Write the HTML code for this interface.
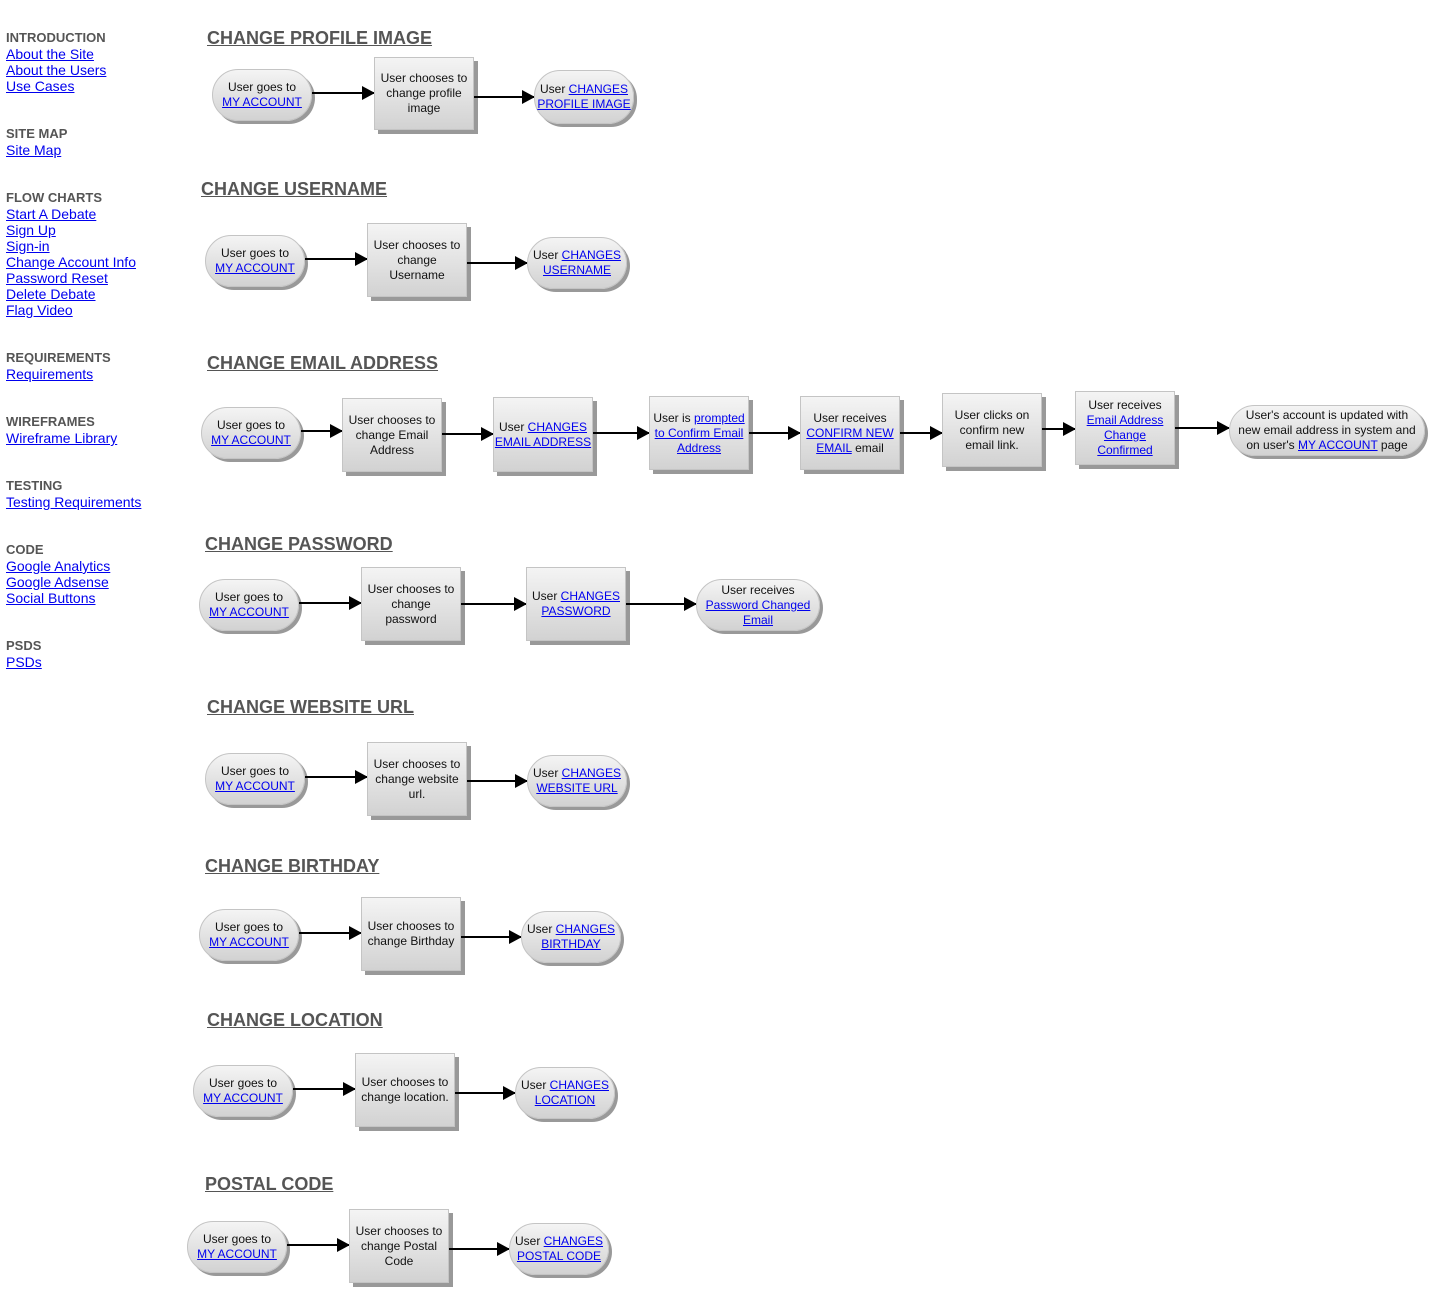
<!DOCTYPE html>
<html><head><meta charset="utf-8"><style>
body{margin:0;width:1444px;height:1304px;background:#fff;position:relative;font-family:"Liberation Sans",Arial,sans-serif;overflow:hidden}
.s{position:absolute;left:6px;font-size:14px;line-height:16px;color:#0000ee}
.s b{color:#555;display:block;font-size:13px}
.s a{color:#0000ee;text-decoration:underline;display:block}
.h{position:absolute;font-size:18px;font-weight:bold;color:#555;text-decoration:underline;line-height:20px}
.n{position:absolute;box-sizing:border-box;display:flex;align-items:center;justify-content:center;text-align:center;font-size:12px;line-height:15px;color:#111;background:linear-gradient(#f4f4f4,#d2d2d2);border:1px solid #c4c4c4;white-space:nowrap}
.n>span{display:block}
.b{box-shadow:4px 4px 0 #999}
.p{border-radius:26px;box-shadow:3px 3px 0 #999}
.n a{color:#0000ee;text-decoration:underline}
.ar{position:absolute;height:2px;background:#000}
.ar:after{content:"";position:absolute;right:-1px;top:-6px;border-left:13px solid #000;border-top:7px solid transparent;border-bottom:7px solid transparent}
</style></head><body>
<div class="s" style="top:30px"><b>INTRODUCTION</b><a>About the Site</a><a>About the Users</a><a>Use Cases</a></div>
<div class="s" style="top:126px"><b>SITE MAP</b><a>Site Map</a></div>
<div class="s" style="top:190px"><b>FLOW CHARTS</b><a>Start A Debate</a><a>Sign Up</a><a>Sign-in</a><a>Change Account Info</a><a>Password Reset</a><a>Delete Debate</a><a>Flag Video</a></div>
<div class="s" style="top:350px"><b>REQUIREMENTS</b><a>Requirements</a></div>
<div class="s" style="top:414px"><b>WIREFRAMES</b><a>Wireframe Library</a></div>
<div class="s" style="top:478px"><b>TESTING</b><a>Testing Requirements</a></div>
<div class="s" style="top:542px"><b>CODE</b><a>Google Analytics</a><a>Google Adsense</a><a>Social Buttons</a></div>
<div class="s" style="top:638px"><b>PSDS</b><a>PSDs</a></div>

<div class="h" style="left:207px;top:28px">CHANGE PROFILE IMAGE</div>
<div class="n p" style="left:212px;top:69px;width:100px;height:52px"><span>User goes to<br><a>MY ACCOUNT</a></span></div>
<div class="ar" style="left:312px;top:92px;width:62px"></div>
<div class="n b" style="left:374px;top:57px;width:100px;height:73px"><span>User chooses to<br>change profile<br>image</span></div>
<div class="ar" style="left:474px;top:96px;width:60px"></div>
<div class="n p" style="left:534px;top:70px;width:100px;height:54px"><span>User <a>CHANGES </a><br><a>PROFILE IMAGE</a></span></div>

<div class="h" style="left:201px;top:179px">CHANGE USERNAME</div>
<div class="n p" style="left:205px;top:235px;width:100px;height:52px"><span>User goes to<br><a>MY ACCOUNT</a></span></div>
<div class="ar" style="left:305px;top:258px;width:62px"></div>
<div class="n b" style="left:367px;top:223px;width:100px;height:74px"><span>User chooses to<br>change<br>Username</span></div>
<div class="ar" style="left:467px;top:262px;width:60px"></div>
<div class="n p" style="left:527px;top:237px;width:100px;height:52px"><span>User <a>CHANGES </a><br><a>USERNAME</a></span></div>

<div class="h" style="left:207px;top:353px">CHANGE EMAIL ADDRESS</div>
<div class="n p" style="left:201px;top:407px;width:100px;height:52px"><span>User goes to<br><a>MY ACCOUNT</a></span></div>
<div class="ar" style="left:301px;top:430px;width:41px"></div>
<div class="n b" style="left:342px;top:398px;width:100px;height:74px"><span>User chooses to<br>change Email<br>Address</span></div>
<div class="ar" style="left:442px;top:433px;width:51px"></div>
<div class="n b" style="left:493px;top:397px;width:100px;height:75px"><span>User <a>CHANGES </a><br><a>EMAIL ADDRESS</a></span></div>
<div class="ar" style="left:593px;top:432px;width:56px"></div>
<div class="n b" style="left:649px;top:396px;width:100px;height:74px"><span>User is <a>prompted</a><br><a>to Confirm Email</a><br><a>Address</a></span></div>
<div class="ar" style="left:749px;top:432px;width:51px"></div>
<div class="n b" style="left:800px;top:396px;width:100px;height:74px"><span>User receives<br><a>CONFIRM NEW </a><br><a>EMAIL</a> email</span></div>
<div class="ar" style="left:900px;top:432px;width:42px"></div>
<div class="n b" style="left:942px;top:393px;width:100px;height:74px"><span>User clicks on<br>confirm new<br>email link.</span></div>
<div class="ar" style="left:1042px;top:428px;width:33px"></div>
<div class="n b" style="left:1075px;top:391px;width:100px;height:74px"><span>User receives<br><a>Email Address </a><br><a>Change </a><br><a>Confirmed</a></span></div>
<div class="ar" style="left:1175px;top:427px;width:54px"></div>
<div class="n p" style="left:1229px;top:405px;width:196px;height:51px"><span>User's account is updated with<br>new email address in system and<br>on user's <a>MY ACCOUNT</a> page</span></div>

<div class="h" style="left:205px;top:534px">CHANGE PASSWORD</div>
<div class="n p" style="left:199px;top:579px;width:100px;height:52px"><span>User goes to<br><a>MY ACCOUNT</a></span></div>
<div class="ar" style="left:299px;top:602px;width:62px"></div>
<div class="n b" style="left:361px;top:567px;width:100px;height:74px"><span>User chooses to<br>change<br>password</span></div>
<div class="ar" style="left:461px;top:603px;width:65px"></div>
<div class="n b" style="left:526px;top:567px;width:100px;height:74px"><span>User <a>CHANGES </a><br><a>PASSWORD</a></span></div>
<div class="ar" style="left:626px;top:603px;width:70px"></div>
<div class="n p" style="left:696px;top:579px;width:124px;height:52px"><span>User receives<br><a>Password Changed </a><br><a>Email</a></span></div>

<div class="h" style="left:207px;top:697px">CHANGE WEBSITE URL</div>
<div class="n p" style="left:205px;top:753px;width:100px;height:52px"><span>User goes to<br><a>MY ACCOUNT</a></span></div>
<div class="ar" style="left:305px;top:776px;width:62px"></div>
<div class="n b" style="left:367px;top:742px;width:100px;height:74px"><span>User chooses to<br>change website<br>url.</span></div>
<div class="ar" style="left:467px;top:780px;width:60px"></div>
<div class="n p" style="left:527px;top:755px;width:100px;height:52px"><span>User <a>CHANGES </a><br><a>WEBSITE URL</a></span></div>

<div class="h" style="left:205px;top:856px">CHANGE BIRTHDAY</div>
<div class="n p" style="left:199px;top:909px;width:100px;height:52px"><span>User goes to<br><a>MY ACCOUNT</a></span></div>
<div class="ar" style="left:299px;top:932px;width:62px"></div>
<div class="n b" style="left:361px;top:897px;width:100px;height:74px"><span>User chooses to<br>change Birthday</span></div>
<div class="ar" style="left:461px;top:936px;width:60px"></div>
<div class="n p" style="left:521px;top:911px;width:100px;height:52px"><span>User <a>CHANGES </a><br><a>BIRTHDAY</a></span></div>

<div class="h" style="left:207px;top:1010px">CHANGE LOCATION</div>
<div class="n p" style="left:193px;top:1065px;width:100px;height:52px"><span>User goes to<br><a>MY ACCOUNT</a></span></div>
<div class="ar" style="left:293px;top:1088px;width:62px"></div>
<div class="n b" style="left:355px;top:1053px;width:100px;height:74px"><span>User chooses to<br>change location.</span></div>
<div class="ar" style="left:455px;top:1092px;width:60px"></div>
<div class="n p" style="left:515px;top:1067px;width:100px;height:52px"><span>User <a>CHANGES </a><br><a>LOCATION</a></span></div>

<div class="h" style="left:205px;top:1174px">POSTAL CODE</div>
<div class="n p" style="left:187px;top:1221px;width:100px;height:52px"><span>User goes to<br><a>MY ACCOUNT</a></span></div>
<div class="ar" style="left:287px;top:1244px;width:62px"></div>
<div class="n b" style="left:349px;top:1209px;width:100px;height:74px"><span>User chooses to<br>change Postal<br>Code</span></div>
<div class="ar" style="left:449px;top:1248px;width:60px"></div>
<div class="n p" style="left:509px;top:1223px;width:100px;height:52px"><span>User <a>CHANGES </a><br><a>POSTAL CODE</a></span></div>
</body></html>
